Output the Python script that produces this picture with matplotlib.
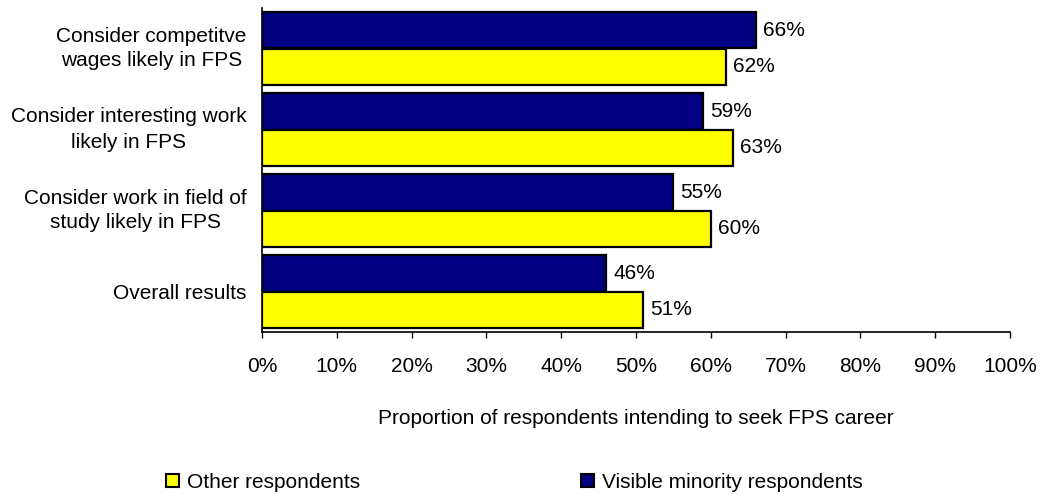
import matplotlib
matplotlib.use("Agg")
import matplotlib.pyplot as plt
from matplotlib.patches import Patch
import numpy as np

# Survey results: share of respondents intending to seek an FPS career
categories = [
    "Consider competitve\nwages likely in FPS",
    "Consider interesting work\nlikely in FPS",
    "Consider work in field of\nstudy likely in FPS",
    "Overall results",
]
visible_minority = [66, 59, 55, 46]
other_respondents = [62, 63, 60, 51]
x_ticks = [0, 10, 20, 30, 40, 50, 60, 70, 80, 90, 100]
x_tick_labels = [f"{t}%" for t in x_ticks]

series_labels = ["Other respondents", "Visible minority respondents"]
navy = "#000080"
yellow = "#FFFF00"

plt.rcParams["font.family"] = ["Liberation Sans", "DejaVu Sans"]
FS = 15

W, H = 1040, 495
fig = plt.figure(figsize=(W / 100, H / 100), dpi=100)
ax = fig.add_axes([262 / W, 1 - 332 / H, (1010 - 262) / W, (332 - 8) / H])

y = np.arange(len(categories))
h = 0.445
bars_vm = ax.barh(y - h / 2, visible_minority, height=h, color=navy,
                  edgecolor="black", linewidth=1.6)
bars_ot = ax.barh(y + h / 2, other_respondents, height=h, color=yellow,
                  edgecolor="black", linewidth=1.6)

for bars in (bars_vm, bars_ot):
    ax.bar_label(bars, labels=[f"{v:.0f}%" for v in bars.datavalues],
                 padding=5, fontsize=FS)

ax.set_ylim(len(categories) - 0.5, -0.5)
ax.set_xlim(0, 100)
ax.set_yticks(y)
ax.set_yticklabels(categories, fontsize=FS)
for t in ax.get_yticklabels():
    t.set_multialignment("center")
    t.set_linespacing(1.4)
    if "\n" in t.get_text():
        t.set_verticalalignment("center")
ax.tick_params(axis="y", length=0, pad=11)

ax.set_xticks(x_ticks)
ax.set_xticklabels(x_tick_labels, fontsize=FS)
ax.tick_params(axis="x", direction="out", length=4.5, width=1.0, pad=13.5,
               color="black")

for side in ("top", "right"):
    ax.spines[side].set_visible(False)
for side in ("left", "bottom"):
    ax.spines[side].set_linewidth(1.2)
    ax.spines[side].set_color("black")

ax.set_xlabel("Proportion of respondents intending to seek FPS career",
              fontsize=FS, labelpad=24)

handles = [
    Patch(facecolor=yellow, edgecolor="black", linewidth=1.5),
    Patch(facecolor=navy, edgecolor="black", linewidth=1.5),
]
fig.legend(handles, series_labels, loc="lower left",
           bbox_to_anchor=(166 / W, 1 - 492 / H), ncol=2, frameon=False,
           fontsize=FS, handlelength=0.62, handleheight=0.62,
           handletextpad=0.4, columnspacing=10.6, borderpad=0,
           borderaxespad=0)

fig.savefig("out.png", dpi=100)
